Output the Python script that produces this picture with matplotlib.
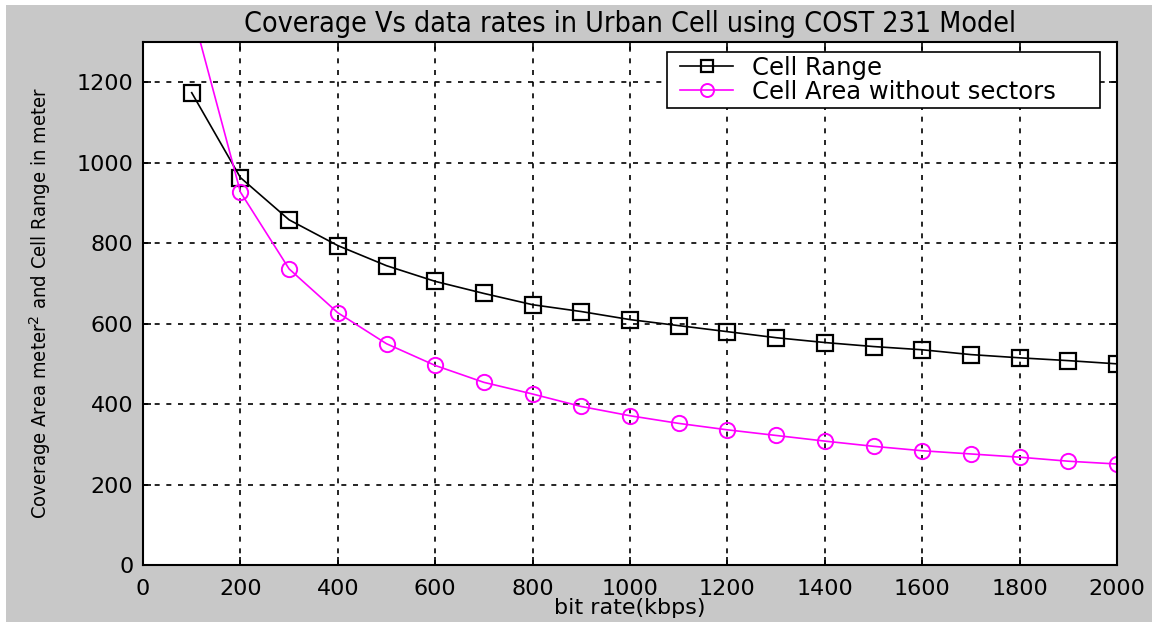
import matplotlib
matplotlib.use("Agg")
import matplotlib.pyplot as plt
from matplotlib.patches import Rectangle

# bit rate (kbps)
bit_rate = [100, 200, 300, 400, 500, 600, 700, 800, 900, 1000,
            1100, 1200, 1300, 1400, 1500, 1600, 1700, 1800, 1900, 2000]
# cell range in meter
cell_range = [1174, 963, 858, 794, 744, 705, 675, 647, 630, 610,
              595, 580, 565, 553, 543, 535, 523, 515, 508, 500]
# cell area without sectors
cell_area = [1380, 927, 736, 627, 550, 496, 454, 425, 394, 371,
             352, 336, 322, 308, 295, 284, 276, 268, 258, 251]

x_ticks = list(range(0, 2001, 200))
y_ticks = list(range(0, 1201, 200))

plt.rcParams["font.family"] = ["DejaVu Sans"]

fig = plt.figure(figsize=(11.52, 6.22), dpi=100, facecolor="white")
# matlab style grey figure panel
fig.patches.append(Rectangle((6 / 1152, 0), 1 - 6 / 1152, 1 - 5 / 622,
                             transform=fig.transFigure, facecolor="#c8c8c8",
                             edgecolor="none", zorder=-10))

ax = fig.add_axes([143 / 1152, 1 - 565 / 622, (1117 - 143) / 1152, (565 - 42) / 622])
ax.set_facecolor("white")

ax.plot(bit_rate, cell_range, color="black", lw=1.2, marker="s", markersize=11,
        markerfacecolor="none", markeredgecolor="black", markeredgewidth=1.6,
        label="Cell Range")
ax.plot(bit_rate, cell_area, color="#ff00ff", lw=1.2, marker="o", markersize=11,
        markerfacecolor="none", markeredgecolor="#ff00ff", markeredgewidth=1.4,
        label="Cell Area without sectors")

ax.set_xlim(0, 2000)
ax.set_ylim(0, 1300)
ax.set_xticks(x_ticks)
ax.set_yticks(y_ticks)
ax.tick_params(direction="in", top=True, right=True, length=6, width=1.2,
               labelsize=16, colors="black")
ax.tick_params(axis="x", pad=10)
ax.tick_params(axis="y", pad=7)
for s in ax.spines.values():
    s.set_linewidth(1.5)
    s.set_color("black")
ax.grid(True, color="black", linestyle=(0, (3, 4)), linewidth=1.2)

ax.set_title("Coverage Vs data rates in Urban Cell using COST 231 Model",
             fontstretch="condensed", fontsize=20.5, pad=7)
ax.set_xlabel("bit rate(kbps)", fontsize=16, labelpad=-1)
ax.set_ylabel("Coverage Area meter$^2$ and Cell Range in meter",
              fontstretch="condensed", fontsize=14.5, labelpad=17)

# legend box drawn separately (matlab legend has wide side margins)
box = Rectangle((0.538, 0.874), 0.9825 - 0.538, 0.981 - 0.874, transform=ax.transAxes,
                facecolor="white", edgecolor="black", linewidth=1.2, zorder=4.5)
ax.add_patch(box)
leg = ax.legend(loc="upper left", bbox_to_anchor=(0.5513, 0.974), borderaxespad=0,
                borderpad=0, frameon=False, fontsize=17.5, handlelength=2.2,
                handletextpad=0.75, labelspacing=0.0, markerscale=0.85)
leg.set_zorder(5)

fig.savefig("out.png", dpi=100, facecolor=fig.get_facecolor())
